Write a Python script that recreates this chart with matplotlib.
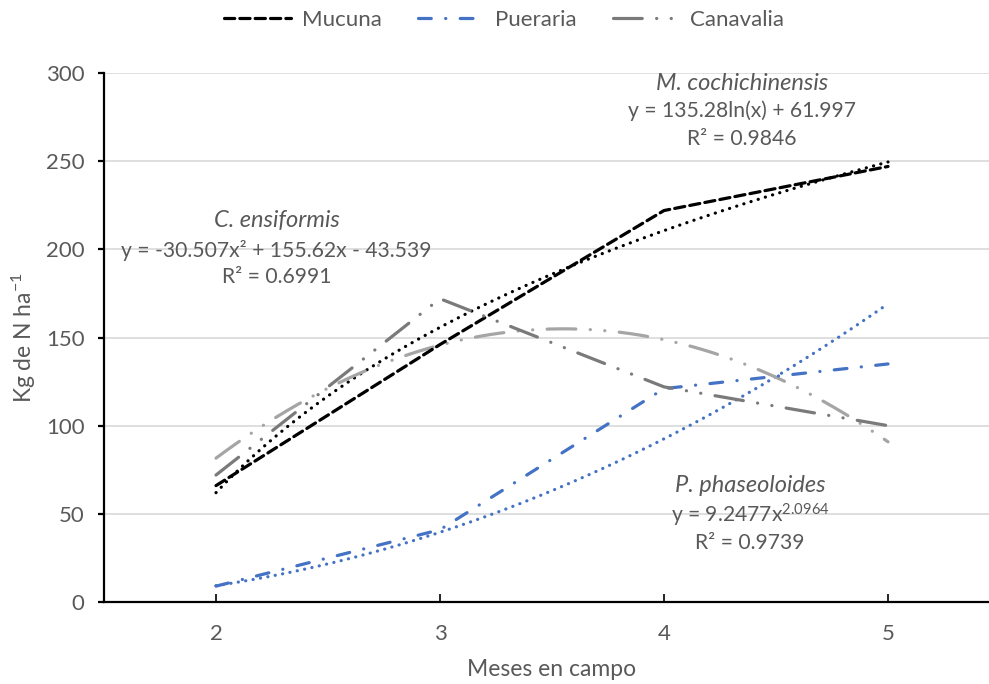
import numpy as np
import matplotlib.pyplot as plt

# ── Data ─────────────────────────────────────────────────────────────────────
MONTHS    = [2, 3, 4, 5]
MUCUNA    = [66, 146, 222, 247]
PUERARIA  = [9, 41, 121, 135]
CANAVALIA = [72, 172, 122, 100]

# trendline coefficients as printed on the chart (x = month index 1..4)
MUC_LN    = (135.28, 61.997)            # a*ln(x) + b
PUE_POW   = (9.2477, 2.0964)            # a*x^b
CAN_POLY  = (-30.507, 155.62, -43.539)  # a*x^2 + b*x + c

LABELS = ["Mucuna", "Pueraria", "Canavalia"]

# ── Style ────────────────────────────────────────────────────────────────────
FONT   = "Lato"
TXT    = "#595959"
BLUE   = "#4472C4"
DGRAY  = "#7A7A7A"
LGRAY  = "#A5A5A5"
LW     = 2.3

plt.rcParams["font.family"] = FONT
plt.rcParams["mathtext.fontset"] = "custom"
plt.rcParams["mathtext.rm"] = FONT
plt.rcParams["mathtext.it"] = FONT + ":italic"

fig = plt.figure(figsize=(9.89, 6.84), dpi=100)
ax = fig.add_axes([104 / 989, 1 - 602 / 684, 896 / 989, 529 / 684])

# ── Trendlines ───────────────────────────────────────────────────────────────
xs = np.linspace(MONTHS[0], MONTHS[-1], 200)
t = xs - 1
dots = dict(dashes=(0.05, 2.3), dash_capstyle="round", lw=LW)
ax.plot(xs, MUC_LN[0] * np.log(t) + MUC_LN[1], color="black", **dots)
ax.plot(xs, PUE_POW[0] * t ** PUE_POW[1], color=BLUE, **dots)
ax.plot(xs, CAN_POLY[0] * t**2 + CAN_POLY[1] * t + CAN_POLY[2], color=LGRAY,
        lw=LW, dashes=(9, 4.5, 0.05, 4.5, 0.05, 4.5), dash_capstyle="round")

# ── Series ───────────────────────────────────────────────────────────────────
ax.plot(MONTHS, MUCUNA, color="black", lw=LW, dashes=(3.2, 1.6),
        dash_capstyle="round", label=LABELS[0])
ax.plot(MONTHS, PUERARIA, color=BLUE, lw=LW, dashes=(4, 4.5, 0.05, 4.5),
        dash_capstyle="round", label=LABELS[1])
ax.plot(MONTHS, CANAVALIA, color=DGRAY, lw=LW,
        dashes=(9, 4.5, 0.05, 4.5, 0.05, 4.5), dash_capstyle="round",
        label=LABELS[2])

# ── Axes ─────────────────────────────────────────────────────────────────────
ax.set_xlim(1.5, 5.5)
ax.set_ylim(0, 300)
ax.set_xticks(MONTHS)
ax.set_yticks(range(0, 301, 50))
ax.grid(axis="y", color="#D9D9D9", lw=1.2)
ax.set_axisbelow(True)
for s in ["top", "right"]:
    ax.spines[s].set_visible(False)
for s in ["left", "bottom"]:
    ax.spines[s].set_linewidth(1.6)
    ax.spines[s].set_color("black")
ax.tick_params(axis="x", direction="in", length=6, width=1.2, pad=16,
               labelsize=16, labelcolor=TXT)
ax.tick_params(axis="y", direction="out", length=4, width=1.6, pad=10,
               labelsize=16, labelcolor=TXT)
ax.set_xlabel("Meses en campo", fontsize=16.5, color=TXT, va="center")
ax.xaxis.set_label_coords(0.5, (602 - 670) / 529)
ax.set_ylabel("Kg de N ha$^{-1}$", fontsize=16.5, color=TXT, va="center")
ax.yaxis.set_label_coords((24 - 104) / 896, 0.5)

# ── Equation labels ──────────────────────────────────────────────────────────
def eq_block(x, ys, lines):
    for y, (txt, it) in zip(ys, lines):
        ax.text(x, y, txt, ha="center", va="center", color=TXT,
                fontsize=17 if it else 15.2,
                style="italic" if it else "normal")

eq_block(4.348, [294, 278.5, 262.6],
         [("M. cochichinensis", True),
          ("y = 135.28ln(x) + 61.997", False),
          ("R² = 0.9846", False)])
eq_block(2.27, [216.6, 199.6, 184.3],
         [("C. ensiformis", True),
          ("y = -30.507x² + 155.62x - 43.539", False),
          ("R² = 0.6991", False)])
eq_block(4.384, [65.8, 49.3, 33.5],
         [("P. phaseoloides", True),
          ("y = 9.2477x$^{2.0964}$", False),
          ("R² = 0.9739", False)])

fig.legend(loc="center", bbox_to_anchor=(0.51, 0.971), ncol=3, frameon=False,
           fontsize=16, labelcolor=TXT, handlelength=3.0, columnspacing=1.6,
           handletextpad=0.5)

plt.savefig("out.png", dpi=100)
